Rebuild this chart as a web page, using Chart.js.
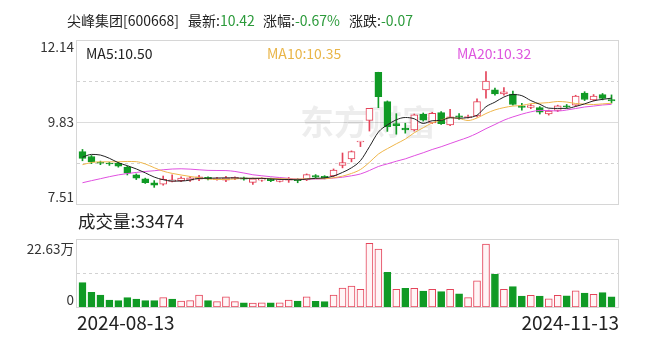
<!DOCTYPE html>
<html>
<head>
<meta charset="utf-8">
<script src="https://cdn.jsdelivr.net/npm/chart.js@4.4.1/dist/chart.umd.min.js"></script>
<style>
  html, body { margin: 0; padding: 0; background: #fff; width: 654px; height: 342px; overflow: hidden; }
  body { position: relative; font-family: "Noto Sans CJK SC", "Noto Sans", sans-serif; color: #222; }
  canvas { position: absolute; left: 0; }
  #price { top: 0; }
  #vol { top: 215px; }
  .t { position: absolute; white-space: pre; line-height: 1; }
  .g { color: #2b9a3a; }
</style>
</head>
<body>
<canvas id="price" width="654" height="215"></canvas>
<canvas id="vol" width="654" height="127"></canvas>

<div class="t" id="tName" style="left:67px;top:13px;font-size:14px;"></div>
<div class="t" id="tLast" style="left:188px;top:13px;font-size:14px;"></div>
<div class="t" id="tPct" style="left:263px;top:13px;font-size:14px;"></div>
<div class="t" id="tChg" style="left:349px;top:13px;font-size:14px;"></div>
<div class="t" id="lMa5" style="left:86px;top:46px;font-size:14px;color:#222;"></div>
<div class="t" id="lMa10" style="left:267px;top:46px;font-size:14px;color:#e9b548;"></div>
<div class="t" id="lMa20" style="left:457px;top:46px;font-size:14px;color:#de56de;"></div>
<div class="t" id="lVol" style="left:78px;top:212px;font-size:17.5px;"></div>

<script>
// 尖峰集团 600668 — daily K-line, 2024-08-13 .. 2024-11-13
const stockName = '尖峰集团';
const stockCode = '600668';

const dates = [
  '2024-08-13','2024-08-14','2024-08-15','2024-08-16','2024-08-19','2024-08-20','2024-08-21','2024-08-22','2024-08-23','2024-08-26',
  '2024-08-27','2024-08-28','2024-08-29','2024-08-30','2024-09-02','2024-09-03','2024-09-04','2024-09-05','2024-09-06','2024-09-09',
  '2024-09-10','2024-09-11','2024-09-12','2024-09-13','2024-09-18','2024-09-19','2024-09-20','2024-09-23','2024-09-24','2024-09-25',
  '2024-09-26','2024-09-27','2024-09-30','2024-10-08','2024-10-09','2024-10-10','2024-10-11','2024-10-14','2024-10-15','2024-10-16',
  '2024-10-17','2024-10-18','2024-10-21','2024-10-22','2024-10-23','2024-10-24','2024-10-25','2024-10-28','2024-10-29','2024-10-30',
  '2024-10-31','2024-11-01','2024-11-04','2024-11-05','2024-11-06','2024-11-07','2024-11-08','2024-11-11','2024-11-12','2024-11-13'
];

// closes of the 19 sessions before the window (needed to seed MA5/MA10/MA20)
const priorCloses = [7.52, 7.55, 7.50, 7.58, 7.62, 7.60, 7.57, 7.63, 7.66, 7.77,
                     8.10, 8.45, 8.65, 8.55, 8.30, 8.30, 8.75, 9.10, 9.20];

const opens = [
  8.99, 8.85, 8.68, 8.66, 8.66, 8.55, 8.33, 8.22, 8.11, 8.07,
  8.15, 8.17, 8.18, 8.21, 8.26, 8.20, 8.18, 8.23, 8.25, 8.12,
  8.18, 8.22, 8.15, 8.18, 8.20, 8.19, 8.31, 8.29, 8.30, 8.60,
  8.78, 9.26, 9.87, 11.23, 10.40, 9.78, 9.65, 9.60, 10.04, 9.80,
  10.09, 9.74, 10.00, 9.95, 10.00, 10.73, 10.73, 10.62, 10.61, 10.28,
  10.24, 10.23, 10.05, 10.15, 10.28, 10.30, 10.64, 10.45, 10.60, 10.46
];
const highs = [
  9.05, 8.88, 8.72, 8.69, 8.69, 8.58, 8.36, 8.24, 8.17, 8.30,
  8.33, 8.28, 8.29, 8.32, 8.28, 8.26, 8.29, 8.28, 8.27, 8.24,
  8.25, 8.24, 8.22, 8.26, 8.23, 8.36, 8.34, 8.31, 8.50, 8.95,
  9.01, 9.28, 10.21, 11.23, 10.42, 10.06, 9.79, 10.05, 10.08, 10.10,
  10.12, 10.18, 10.06, 10.02, 10.48, 11.25, 10.78, 10.80, 10.70, 10.35,
  10.32, 10.26, 10.16, 10.30, 10.32, 10.58, 10.68, 10.60, 10.63, 10.59
];
const lows = [
  8.73, 8.65, 8.62, 8.60, 8.55, 8.33, 8.20, 8.09, 7.98, 8.04,
  8.13, 8.14, 8.15, 8.17, 8.19, 8.18, 8.14, 8.20, 8.18, 8.06,
  8.15, 8.14, 8.13, 8.12, 8.11, 8.17, 8.24, 8.22, 8.28, 8.53,
  8.70, 9.13, 9.57, 10.23, 9.56, 9.48, 9.51, 9.57, 9.85, 9.78,
  9.76, 9.72, 9.90, 9.93, 9.97, 10.50, 10.58, 10.58, 10.30, 10.16,
  10.20, 10.05, 10.02, 10.12, 10.22, 10.27, 10.43, 10.42, 10.45, 10.36
];
const closes = [
  8.80, 8.70, 8.66, 8.64, 8.58, 8.38, 8.24, 8.11, 8.04, 8.21,
  8.19, 8.24, 8.25, 8.28, 8.22, 8.23, 8.25, 8.26, 8.21, 8.22,
  8.23, 8.17, 8.19, 8.20, 8.17, 8.34, 8.27, 8.25, 8.47, 8.68,
  8.99, 9.28, 10.21, 10.54, 9.69, 9.72, 9.60, 10.03, 9.88, 10.07,
  9.78, 9.97, 9.96, 9.97, 10.40, 10.98, 10.62, 10.68, 10.32, 10.24,
  10.29, 10.10, 10.13, 10.28, 10.25, 10.56, 10.46, 10.56, 10.49, 10.42
];
// volume in lots (手)
const volumes = [
  81000, 49000, 40000, 23000, 21000, 31000, 26000, 21000, 21000, 31000,
  26000, 20000, 21000, 40000, 21000, 18000, 34000, 18000, 14000, 13000,
  14000, 14000, 14000, 23000, 20000, 34000, 19000, 18000, 40000, 63000,
  70000, 59000, 212000, 193000, 115000, 59000, 62000, 62000, 53000, 59000,
  51000, 59000, 44000, 31000, 87000, 209000, 109000, 59000, 68000, 36000,
  39000, 36000, 27000, 39000, 37000, 54000, 46000, 42000, 48000, 33474
];

const priceMin = 7.51;
const priceMax = 12.14;
const priceTickLabels = ['12.14', '9.83', '7.51'];
const volMax = 226300;
const volTickLabels = ['22.63万', '0'];

const RED = '#e4445a';
const RED_FILL = '#fff5f6';
const GREEN = '#109a25';
const MA5_COLOR = '#222222';
const MA10_COLOR = '#efb64a';
const MA20_COLOR = '#e050e0';
const FRAME = '#d6d6d6';
const GRID = '#d2d2d2';
const LABEL = '#333';
const AXIS_FONT = '"Noto Sans CJK SC", "Noto Sans", sans-serif';

function movingAverage(n) {
  const all = priorCloses.concat(closes);
  const off = priorCloses.length;
  return closes.map((_, i) => {
    const k = i + off;
    if (k + 1 < n) return null;
    let s = 0;
    for (let j = k - n + 1; j <= k; j++) s += all[j];
    return s / n;
  });
}
const ma5 = movingAverage(5);
const ma10 = movingAverage(10);
const ma20 = movingAverage(20);

// candle colour: close vs open; volume colour: close vs previous close
const candleUp = closes.map((c, i) => c >= opens[i]);
const prevClose = closes.map((c, i) => i === 0 ? priorCloses[priorCloses.length - 1] : closes[i - 1]);
const volUp = closes.map((c, i) => c >= prevClose[i]);

// header texts
const last = closes.length - 1;
const lastClose = closes[last];
const change = lastClose - prevClose[last];
const changePct = change / prevClose[last] * 100;
document.getElementById('tName').textContent = stockName + '[' + stockCode + ']';
document.getElementById('tLast').innerHTML = '最新:<span class="g">' + lastClose.toFixed(2) + '</span>';
document.getElementById('tPct').innerHTML = '涨幅:<span class="g">' + changePct.toFixed(2) + '%</span>';
document.getElementById('tChg').innerHTML = '涨跌:<span class="g">' + change.toFixed(2) + '</span>';
document.getElementById('lMa5').textContent = 'MA5:' + ma5[last].toFixed(2);
document.getElementById('lMa10').textContent = 'MA10:' + ma10[last].toFixed(2);
document.getElementById('lMa20').textContent = 'MA20:' + ma20[last].toFixed(2);
document.getElementById('lVol').textContent = '成交量:' + volumes[last];

// frame around a panel: slightly wider than the category area
function drawFrame(ctx, area) {
  ctx.save();
  ctx.strokeStyle = FRAME;
  ctx.lineWidth = 1;
  ctx.strokeRect(area.left - 1.5, area.top + 0.5, area.right - area.left + 4, area.bottom - area.top);
  ctx.restore();
}
function hLine(ctx, area, y, dashed, color) {
  ctx.save();
  ctx.strokeStyle = color;
  ctx.lineWidth = 1;
  if (dashed) ctx.setLineDash([3, 3]);
  ctx.beginPath();
  ctx.moveTo(area.left - 1, Math.round(y) + 0.5);
  ctx.lineTo(area.right + 2, Math.round(y) + 0.5);
  ctx.stroke();
  ctx.restore();
}

const pricePanel = {
  id: 'pricePanel',
  beforeDatasetsDraw(chart) {
    const { ctx, chartArea: a, scales: { y } } = chart;
    drawFrame(ctx, a);
    const mid = (priceMin + priceMax) / 2;
    const q1 = priceMin + (priceMax - priceMin) / 4;
    const q3 = priceMin + (priceMax - priceMin) * 3 / 4;
    hLine(ctx, a, y.getPixelForValue(q3), true, GRID);
    hLine(ctx, a, y.getPixelForValue(mid), false, '#dcdcdc');
    hLine(ctx, a, y.getPixelForValue(q1), true, GRID);

    // watermark
    ctx.save();
    ctx.fillStyle = 'rgba(0,0,0,0.07)';
    ctx.font = 'bold 34px ' + AXIS_FONT;
    ctx.textBaseline = 'middle';
    ctx.textAlign = 'left';
    ctx.fillText('东方财富', 300, y.getPixelForValue(mid));
    ctx.restore();

    // axis labels
    ctx.save();
    ctx.fillStyle = LABEL;
    ctx.font = '13.5px ' + AXIS_FONT;
    ctx.textAlign = 'right';
    ctx.textBaseline = 'middle';
    priceTickLabels.forEach(t => {
      let py = y.getPixelForValue(parseFloat(t));
      py = Math.max(a.top + 7, Math.min(a.bottom - 7, py));
      ctx.fillText(t, a.left - 4, py);
    });
    ctx.restore();
  }
};

const volPanel = {
  id: 'volPanel',
  beforeDatasetsDraw(chart) {
    const { ctx, chartArea: a } = chart;
    drawFrame(ctx, a);
    hLine(ctx, a, (a.top + a.bottom) / 2, true, GRID);
    ctx.save();
    ctx.fillStyle = LABEL;
    ctx.font = '13.5px ' + AXIS_FONT;
    ctx.textAlign = 'right';
    ctx.textBaseline = 'middle';
    ctx.fillText(volTickLabels[0], a.left - 4, a.top + 10);
    ctx.fillText(volTickLabels[1], a.left - 4, a.bottom - 7);
    ctx.restore();
  },
  afterDatasetsDraw(chart) {
    const { ctx, chartArea: a } = chart;
    ctx.save();
    ctx.fillStyle = '#222';
    ctx.font = '19px ' + AXIS_FONT;
    ctx.textBaseline = 'middle';
    ctx.textAlign = 'left';
    ctx.fillText(dates[0], a.left - 1, a.bottom + 16);
    ctx.textAlign = 'right';
    ctx.fillText(dates[dates.length - 1], a.right + 3, a.bottom + 16);
    ctx.restore();
  }
};

const common = {
  responsive: false,
  animation: false,
  devicePixelRatio: 1,
  events: [],
  plugins: { legend: { display: false }, tooltip: { enabled: false } }
};

new Chart(document.getElementById('price'), {
  type: 'bar',
  data: {
    labels: dates,
    datasets: [
      { type: 'line', label: 'MA5', data: ma5, borderColor: MA5_COLOR, borderWidth: 1, pointRadius: 0,
        cubicInterpolationMode: 'monotone', order: 1 },
      { type: 'line', label: 'MA10', data: ma10, borderColor: MA10_COLOR, borderWidth: 1, pointRadius: 0,
        cubicInterpolationMode: 'monotone', order: 1 },
      { type: 'line', label: 'MA20', data: ma20, borderColor: MA20_COLOR, borderWidth: 1, pointRadius: 0,
        cubicInterpolationMode: 'monotone', order: 1 },
      { type: 'bar', label: 'wick', data: lows.map((l, i) => [l, highs[i]]),
        backgroundColor: candleUp.map(u => u ? RED : GREEN), borderWidth: 0,
        barThickness: 1, grouped: false, order: 3 },
      { type: 'bar', label: 'body', data: opens.map((o, i) => [o, closes[i]]),
        backgroundColor: candleUp.map(u => u ? '#ffffff' : GREEN),
        borderColor: candleUp.map(u => u ? RED : GREEN), borderWidth: 1, borderSkipped: false,
        barThickness: 7, minBarLength: 1, grouped: false, order: 2 }
    ]
  },
  options: Object.assign({}, common, {
    layout: { padding: { left: 78, right: 38, top: 40, bottom: 11 } },
    scales: {
      x: { display: false, offset: true },
      y: { display: false, min: priceMin, max: priceMax }
    }
  }),
  plugins: [pricePanel]
});

new Chart(document.getElementById('vol'), {
  type: 'bar',
  data: {
    labels: dates,
    datasets: [
      { label: '成交量', data: volumes,
        backgroundColor: volUp.map(u => u ? RED_FILL : GREEN),
        borderColor: volUp.map(u => u ? RED : GREEN), borderWidth: 1, borderSkipped: false,
        barThickness: 7 }
    ]
  },
  options: Object.assign({}, common, {
    layout: { padding: { left: 78, right: 38, top: 24, bottom: 35 } },
    scales: {
      x: { display: false, offset: true },
      y: { display: false, min: 0, max: volMax }
    }
  }),
  plugins: [volPanel]
});
</script>
</body>
</html>
